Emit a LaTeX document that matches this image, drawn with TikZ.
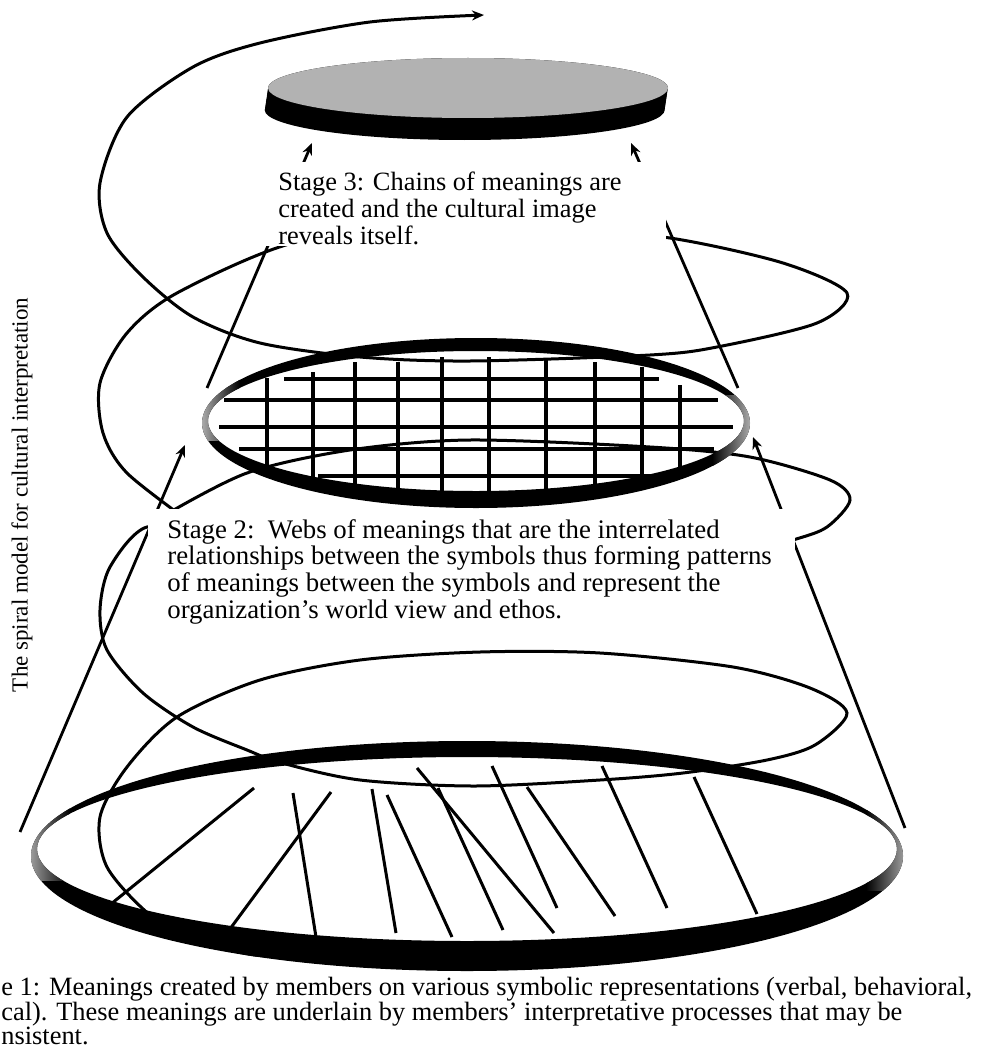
\documentclass[tikz,border=0pt]{standalone}
\usepackage{fontspec}
\setmainfont{Liberation Serif}
\usetikzlibrary{positioning,arrows.meta}
\setlength{\lineskiplimit}{-20pt}

\begin{document}
\begin{tikzpicture}[x=0.5pt,y=-0.5pt,>={Stealth[length=6pt,width=5pt]},
  spiral/.style={line width=1.5pt,line cap=round},
  link/.style={->,line width=1.4pt},
  web/.style={line width=2pt},
  chain/.style={line width=1.5pt},
  band/.style={fill=black,even odd rule},
  mask/.style={fill=white},
  txt/.style={inner sep=0pt,align=left}]
\useasboundingbox (0,0) rectangle (982,1054);

% the spiral, from the bottom upwards
\draw[spiral] plot[smooth] coordinates {(305,955) (255,955) (198,941) (150,915) (107,867) (100,817) (127,767) (177,717) (260,680) (360,660) (480,652) (600,653) (733,667) (810,688) (847,713) (815,745) (767,760) (683,773) (600,780) (474,786) (360,780) (282,763) (247,750) (193,727) (143,693) (107,650) (100,610) (110,567) (147,527) (210,540)};
\draw[spiral] plot[smooth] coordinates {(720,560) (793,540) (827,527) (850,500) (830,480) (750,457) (650,447) (470,440) (350,450) (247,473) (165,515)};
\draw[spiral] plot[smooth] coordinates {(190,522) (127,473) (103,433) (100,383) (127,333) (177,293) (293,243) (420,232)};
\draw[spiral,->] plot[smooth] coordinates {(560,230) (670,238) (783,263) (847,293) (817,323) (717,347) (650,355) (470,361) (360,357) (260,343) (193,317) (143,277) (107,233) (100,183) (127,117) (193,67) (260,43) (370,22) (484,15)};

% stage 1: bottom ring with loose symbols
\fill[band] (467,856) ellipse [x radius=436,y radius=115] (467,849) ellipse [x radius=430,y radius=92];
\begin{scope}[even odd rule]
  \clip (467,856) ellipse [x radius=436,y radius=115] (467,849) ellipse [x radius=430,y radius=92];
  \shade[left color=black!35,right color=black] (28,800) rectangle (70,880);
  \shade[left color=black,right color=black!35] (866,810) rectangle (906,890);
\end{scope}
\foreach \xa/\ya/\xb/\yb in {254/788/111/904, 293/793/316/937, 331/792/227/933, 372/789/396/933,
    387/795/452/937, 417/768/554/933, 438/788/503/930, 492/766/557/908, 527/787/615/916,
    602/766/667/908, 694/777/757/914}
  \draw[chain] (\xa,\ya) -- (\xb,\yb);

% stage 2: ring with the web
\fill[band] (476,423) ellipse [x radius=274,y radius=85] (476,421) ellipse [x radius=268,y radius=70];
\begin{scope}[even odd rule]
  \clip (476,423) ellipse [x radius=274,y radius=85] (476,421) ellipse [x radius=268,y radius=70];
  \shade[left color=black!30,right color=black] (200,375) rectangle (240,440);
  \shade[left color=black,right color=black!30] (712,395) rectangle (752,465);
\end{scope}
\foreach \y/\xa/\xb in {379/284/659, 400/224/718, 427/219/733, 449/239/714, 476/318/651}
  \draw[web] (\xa,\y) -- (\xb,\y);
\foreach \x/\ya/\yb in {267/378/467, 313/372/478, 355/362/485, 398/362/493, 442/357/497,
    489/357/497, 546/358/490, 595/362/488, 642/367/478, 680/385/468}
  \draw[web] (\x,\ya) -- (\x,\yb);

% stage 3: the disk
\foreach \d in {0,2,...,22}
  \fill (468-0.15*\d,88+\d) ellipse [x radius=200,y radius=30];
\fill[black!30] (468,88) ellipse [x radius=200,y radius=30];

% arrows between the stages
\coordinate (bl) at (20,832);
\coordinate (br) at (905,828);
\coordinate (gl) at (185,445);
\coordinate (gr) at (753,437);
\coordinate (gtl) at (207,388);
\coordinate (gtr) at (738,388);
\coordinate (dl) at (312,143);
\coordinate (dr) at (631,143);
\draw[link] (bl) -- (gl);
\draw[link] (br) -- (gr);
\draw[link] (gtl) -- (dl);
\draw[link] (gtr) -- (dr);

% text boxes
\fill[mask] (258,162) rectangle (666,246);
\fill[mask] (148,509) rectangle (795,626);
\node[txt,anchor=north west,font=\fontsize{13.2}{13.5}\selectfont] (stage3) at (278,172)
  {Stage 3: Chains of meanings are\\created and the cultural image\\reveals itself.};
\node[txt,anchor=north west,font=\fontsize{13.4}{13.35}\selectfont] (stage2) at (167,519)
  {Stage 2:\ \ Webs of meanings that are the interrelated\\relationships between the symbols thus forming patterns\\of meanings between the symbols and represent the\\organization’s world view and ethos.};
\node[txt,anchor=north west,font=\fontsize{13.2}{12.3}\selectfont] (caption) at (1,977)
  {e 1: Meanings created by members on various symbolic representations (verbal, behavioral,\\cal). These meanings are underlain by members’ interpretative processes that may be\\nsistent.};
\node[rotate=90,font=\fontsize{11.5}{13}\selectfont] (title) at (22,495) {The spiral model for cultural interpretation};
\end{tikzpicture}
\end{document}
